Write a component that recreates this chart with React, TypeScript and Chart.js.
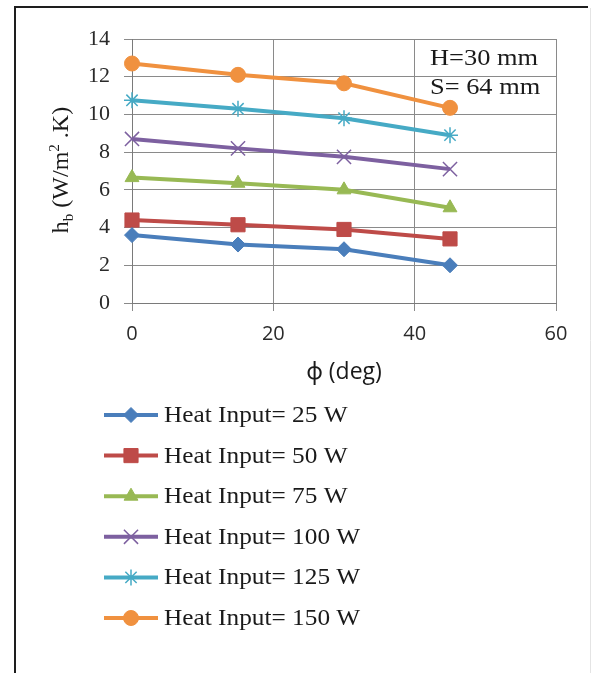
import React, { useEffect, useRef } from "react";
import { Chart, registerables } from "chart.js";
import { drawPoint } from "chart.js/helpers";

Chart.register(...registerables);

// Inclination angle (deg) and base heat transfer coefficient for each heat input
const angles = [0, 15, 30, 45];
const heat25 = [3.6, 3.1, 2.85, 2.0];
const heat50 = [4.4, 4.15, 3.9, 3.4];
const heat75 = [6.65, 6.35, 6.0, 5.05];
const heat100 = [8.7, 8.2, 7.75, 7.1];
const heat125 = [10.75, 10.3, 9.8, 8.9];
const heat150 = [12.7, 12.1, 11.65, 10.35];

const seriesLabels = [
  "Heat Input= 25 W",
  "Heat Input= 50 W",
  "Heat Input= 75 W",
  "Heat Input= 100 W",
  "Heat Input= 125 W",
  "Heat Input= 150 W",
];
const seriesValues = [heat25, heat50, heat75, heat100, heat125, heat150];
const seriesColors = ["#4A7EBB", "#BE4B48", "#98B954", "#7D60A0", "#46AAC5", "#F0913F"];
const seriesMarkers = ["rectRot", "rect", "triangle", "crossRot", "star", "circle"];
const markerSizes = [7.5, 10, 8, 10, 8, 7.5];

const xTickValues = [0, 20, 40, 60];
const yTickValues = [0, 2, 4, 6, 8, 10, 12, 14];
const noteLines = ["H=30 mm", "S= 64 mm"];
const xTitle = "ϕ (deg)";

const SERIF = '"Liberation Serif", "DejaVu Serif", serif';
const SANS = '"Open Sans", "Noto Sans", sans-serif';

const W = 596;
const H = 673;
// serif labels are set slightly wide
const WIDE = 1.1;

function wideText(ctx: CanvasRenderingContext2D, text: string, x: number, y: number, sx: number) {
  ctx.save();
  ctx.translate(x, y);
  ctx.scale(sx, 1);
  ctx.fillText(text, 0, 0);
  ctx.restore();
}

const framePlugin = {
  id: "frame",
  beforeDraw(chart: any) {
    const { ctx } = chart;
    ctx.save();
    ctx.fillStyle = "#ffffff";
    ctx.fillRect(0, 0, W, H);
    ctx.strokeStyle = "#1e1e1e";
    ctx.lineWidth = 2;
    ctx.beginPath();
    ctx.moveTo(15, H);
    ctx.lineTo(15, 7);
    ctx.lineTo(588, 7);
    ctx.stroke();
    ctx.strokeStyle = "#e4e4e4";
    ctx.lineWidth = 1;
    ctx.beginPath();
    ctx.moveTo(590.5, 8);
    ctx.lineTo(590.5, H);
    ctx.stroke();
    ctx.restore();
  },
};

const textPlugin = {
  id: "texts",
  afterDraw(chart: any) {
    const { ctx, chartArea } = chart;
    ctx.save();
    ctx.fillStyle = "#1a1a1a";

    // y-axis title: h_b (W/m^2.K), rotated
    ctx.save();
    ctx.translate(60, 170);
    ctx.rotate(-Math.PI / 2);
    const big = `24px ${SERIF}`;
    const small = `15px ${SERIF}`;
    const parts: [string, string, number][] = [
      ["h", big, 0],
      ["b", small, 5],
      [" (W/m", big, 0],
      ["2", small, -9],
      [" .K)", big, 0],
    ];
    let total = 0;
    for (const [t, f] of parts) {
      ctx.font = f;
      total += ctx.measureText(t).width;
    }
    let px = -total / 2;
    ctx.textBaseline = "alphabetic";
    ctx.textAlign = "left";
    for (const [t, f, dy] of parts) {
      ctx.font = f;
      ctx.fillText(t, px, 8 + dy);
      px += ctx.measureText(t).width;
    }
    ctx.restore();

    // x-axis title
    ctx.font = `23px ${SANS}`;
    ctx.textAlign = "center";
    ctx.textBaseline = "middle";
    ctx.fillText(xTitle, (chartArea.left + chartArea.right) / 2, 372);

    // note in upper right
    ctx.font = `24px ${SERIF}`;
    ctx.textAlign = "left";
    ctx.textBaseline = "middle";
    wideText(ctx, noteLines[0], 430, 59, WIDE);
    wideText(ctx, noteLines[1], 430, 88, WIDE);

    // legend
    chart.data.datasets.forEach((ds: any, i: number) => {
      const y = 415 + i * 40.6;
      ctx.strokeStyle = ds.borderColor;
      ctx.lineWidth = 4;
      ctx.beginPath();
      ctx.moveTo(104, y);
      ctx.lineTo(158, y);
      ctx.stroke();
      ctx.fillStyle = ds.pointBackgroundColor;
      ctx.strokeStyle = ds.pointBorderColor;
      ctx.lineWidth = ds.pointBorderWidth;
      drawPoint(
        ctx,
        { pointStyle: ds.pointStyle, radius: ds.pointRadius, rotation: 0, borderWidth: ds.pointBorderWidth },
        131,
        y
      );
      ctx.fillStyle = "#1a1a1a";
      ctx.font = `23px ${SERIF}`;
      ctx.textAlign = "left";
      ctx.textBaseline = "middle";
      wideText(ctx, ds.label, 164, y + 1, WIDE);
    });
    ctx.restore();
  },
};

export default function App() {
  const canvasRef = useRef<HTMLCanvasElement | null>(null);

  useEffect(() => {
    if (!canvasRef.current) return;
    const datasets = seriesValues.map((vals, i) => {
      const lineish = seriesMarkers[i] === "crossRot" || seriesMarkers[i] === "star";
      return {
        label: seriesLabels[i],
        data: angles.map((a, j) => ({ x: a, y: vals[j] })),
        borderColor: seriesColors[i],
        backgroundColor: seriesColors[i],
        borderWidth: 4,
        pointStyle: seriesMarkers[i],
        pointRadius: markerSizes[i],
        pointBackgroundColor: seriesColors[i],
        pointBorderColor: seriesColors[i],
        pointBorderWidth: lineish ? 1.5 : 1,
        tension: 0,
        clip: false,
      };
    });

    const chart = new Chart(canvasRef.current, {
      type: "line",
      data: { datasets },
      plugins: [framePlugin, textPlugin],
      options: {
        animation: false,
        responsive: false,
        devicePixelRatio: 1,
        layout: { padding: { left: 0, top: 39, right: 40, bottom: 0 } },
        plugins: { legend: { display: false }, tooltip: { enabled: false } },
        scales: {
          x: {
            type: "linear",
            min: 0,
            max: 60,
            afterFit: (s: any) => {
              s.height = H - 303;
            },
            afterBuildTicks: (s: any) => {
              s.ticks = xTickValues.map((v) => ({ value: v }));
            },
            ticks: {
              padding: 11,
              color: "#2a2a2a",
              font: { family: SANS, size: 20 },
            },
            grid: { color: "#8a8a8a", lineWidth: 1, tickLength: 8, tickColor: "#8a8a8a" },
            border: { color: "#7a7a7a", width: 1 },
          },
          y: {
            min: 0,
            max: 14,
            afterFit: (s: any) => {
              s.width = 132;
            },
            afterBuildTicks: (s: any) => {
              s.ticks = yTickValues.map((v) => ({ value: v }));
            },
            ticks: {
              padding: 14,
              color: "#2a2a2a",
              font: { family: SERIF, size: 22 },
            },
            grid: { color: "#8a8a8a", lineWidth: 1, tickLength: 8, tickColor: "#8a8a8a" },
            border: { color: "#7a7a7a", width: 1 },
          },
        },
      },
    } as any);
    return () => chart.destroy();
  }, []);

  return (
    <div style={{ position: "fixed", left: 0, top: 0, width: W, height: H, background: "#fff" }}>
      <canvas ref={canvasRef} width={W} height={H} style={{ width: W, height: H, display: "block" }} />
    </div>
  );
}
